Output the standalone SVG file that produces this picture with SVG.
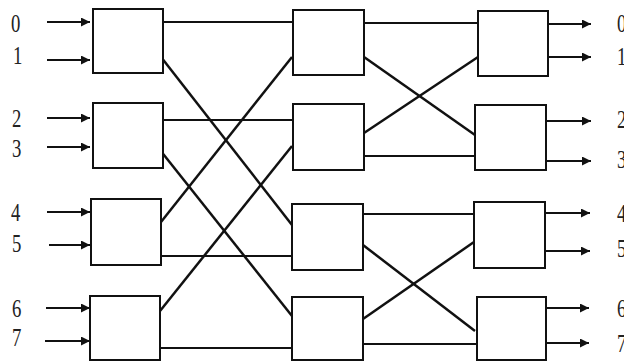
<svg xmlns="http://www.w3.org/2000/svg" width="624" height="361" viewBox="0 0 624 361">
<defs>
<marker id="ah" viewBox="0 0 10 10" refX="10" refY="5" markerWidth="9" markerHeight="9" markerUnits="userSpaceOnUse" orient="auto">
<path d="M0,0 L10,5 L0,10 Z" fill="#111"/>
</marker>
</defs>
<style>
.box{fill:#fff;stroke:#111;stroke-width:2}
.w{stroke:#111;stroke-width:2;fill:none}
.d{stroke:#111;stroke-width:2.5;fill:none}
.a{stroke:#111;stroke-width:1.8;fill:none;marker-end:url(#ah)}
.lbl{font-family:"Liberation Serif","DejaVu Serif",serif;font-size:26px;fill:#222}
</style>
<rect width="624" height="361" fill="#fff"/>
<g id="connectors">
<path class="a" d="M47,22 H90"/>
<path class="a" d="M47,60 H90"/>
<path class="a" d="M47,118 H90"/>
<path class="a" d="M47,147 H90"/>
<path class="a" d="M47,212 H90"/>
<path class="a" d="M49,245 H90"/>
<path class="a" d="M46,308 H90"/>
<path class="a" d="M45,341 H90"/>
<path class="w" d="M163,22 H293"/>
<path class="d" d="M161,57 L292,225"/>
<path class="w" d="M163,120 H293"/>
<path class="d" d="M160,150 L292,316"/>
<path class="d" d="M161,222 L292,57"/>
<path class="w" d="M161,256 H292"/>
<path class="d" d="M156,316 L292,146"/>
<path class="w" d="M161,348 H292"/>
<path class="w" d="M364,23 H478"/>
<path class="d" d="M364,57 L475,135"/>
<path class="d" d="M364,133 L478,57"/>
<path class="w" d="M364,156 H475"/>
<path class="w" d="M363,214 H474"/>
<path class="d" d="M363,245 L475,331"/>
<path class="d" d="M363,319 L474,242"/>
<path class="w" d="M363,344 H477"/>
<path class="a" d="M548,24 H591"/>
<path class="a" d="M548,57 H591"/>
<path class="a" d="M546,121 H591"/>
<path class="a" d="M546,161 H591"/>
<path class="a" d="M545,213 H590"/>
<path class="a" d="M545,251 H590"/>
<path class="a" d="M546,308 H589"/>
<path class="a" d="M546,343 H589"/>
</g>
<g id="s1a"><rect class="box" x="93" y="9" width="70" height="64"/></g>
<g id="s1b"><rect class="box" x="93" y="103" width="70" height="65"/></g>
<g id="s1c"><rect class="box" x="91" y="199" width="70" height="66"/></g>
<g id="s1d"><rect class="box" x="90" y="296" width="70" height="64"/></g>
<g id="s2a"><rect class="box" x="293" y="10" width="71" height="65"/></g>
<g id="s2b"><rect class="box" x="293" y="104" width="71" height="66"/></g>
<g id="s2c"><rect class="box" x="292" y="204" width="71" height="66"/></g>
<g id="s2d"><rect class="box" x="292" y="297" width="71" height="63"/></g>
<g id="s3a"><rect class="box" x="478" y="11" width="70" height="65"/></g>
<g id="s3b"><rect class="box" x="475" y="105" width="71" height="65"/></g>
<g id="s3c"><rect class="box" x="474" y="202" width="71" height="66"/></g>
<g id="s3d"><rect class="box" x="477" y="297" width="69" height="63"/></g>
<g id="labels-in">
<text class="lbl" transform="translate(11,32) scale(0.72,1)">0</text>
<text class="lbl" transform="translate(13,64) scale(0.72,1)">1</text>
<text class="lbl" transform="translate(12,127) scale(0.72,1)">2</text>
<text class="lbl" transform="translate(12,157) scale(0.72,1)">3</text>
<text class="lbl" transform="translate(11,221) scale(0.72,1)">4</text>
<text class="lbl" transform="translate(12,252) scale(0.72,1)">5</text>
<text class="lbl" transform="translate(12,317) scale(0.72,1)">6</text>
<text class="lbl" transform="translate(12,346) scale(0.72,1)">7</text>
</g>
<g id="labels-out">
<text class="lbl" transform="translate(617,32) scale(0.72,1)">0</text>
<text class="lbl" transform="translate(617,65) scale(0.72,1)">1</text>
<text class="lbl" transform="translate(617,128) scale(0.72,1)">2</text>
<text class="lbl" transform="translate(617,168) scale(0.72,1)">3</text>
<text class="lbl" transform="translate(617,222) scale(0.72,1)">4</text>
<text class="lbl" transform="translate(617,257) scale(0.72,1)">5</text>
<text class="lbl" transform="translate(617,317) scale(0.72,1)">6</text>
<text class="lbl" transform="translate(617,352) scale(0.72,1)">7</text>
</g>
</svg>
